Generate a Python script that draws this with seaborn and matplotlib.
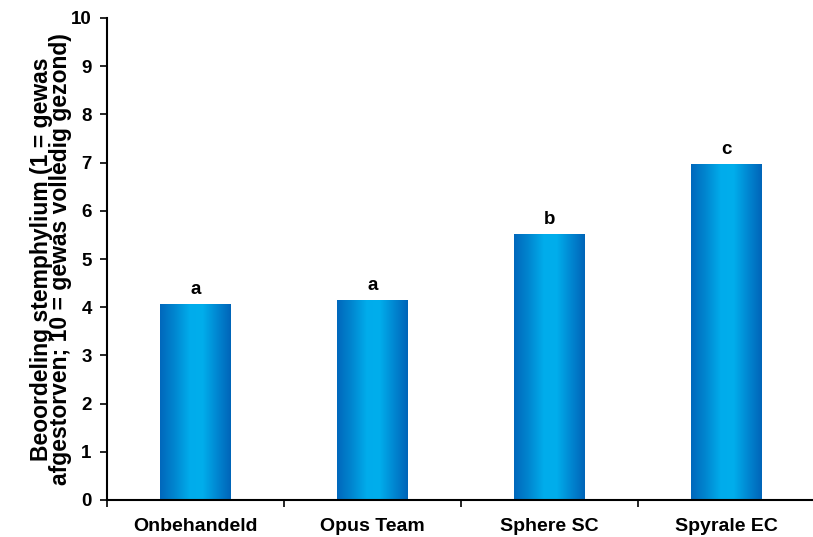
import numpy as np
import pandas as pd
import matplotlib
matplotlib.use("Agg")
import matplotlib.pyplot as plt
import seaborn as sns
from matplotlib.colors import LinearSegmentedColormap

categories = ["Onbehandeld", "Opus Team", "Sphere SC", "Spyrale EC"]
values = [4.07, 4.15, 5.52, 6.97]
letters = ["a", "a", "b", "c"]
yticks = [0, 1, 2, 3, 4, 5, 6, 7, 8, 9, 10]
ylabel = "Beoordeling stemphylium (1 = gewas\nafgestorven; 10 = gewas volledig gezond)"

sns.set_theme(style="white")
plt.rcParams["font.family"] = ["Liberation Sans", "DejaVu Sans"]
plt.rcParams["font.weight"] = "bold"
plt.rcParams["text.color"] = "black"
plt.rcParams["axes.labelcolor"] = "black"
plt.rcParams["xtick.color"] = "black"
plt.rcParams["ytick.color"] = "black"

df = pd.DataFrame({"cat": categories, "val": values})

fig = plt.figure(figsize=(8.13, 5.37), dpi=100)
ax = fig.add_axes([107 / 813, 37 / 537, 708 / 813, 482 / 537])
sns.barplot(data=df, x="cat", y="val", ax=ax, color="#00A0E0", width=0.4,
            saturation=1, edgecolor="none")

ax.set_xlim(-0.5, 3.5)
ax.set_ylim(0, 10)

# gradient fill
cmap = LinearSegmentedColormap.from_list(
    "bargrad",
    [(0.0, "#0068BC"), (0.2, "#0085CF"), (0.42, "#00ACEB"), (0.6, "#00AEEC"),
     (0.8, "#0088D2"), (1.0, "#0064B8")])
grad = np.linspace(0, 1, 256).reshape(1, -1)
for p in list(ax.patches):
    x0, y0 = p.get_x(), p.get_y()
    w, h = p.get_width(), p.get_height()
    im = ax.imshow(grad, cmap=cmap, aspect="auto",
                   extent=[x0, x0 + w, y0, y0 + h], zorder=p.get_zorder() + 0.1,
                   interpolation="bilinear")
    im.set_clip_path(p)
ax.set_xlim(-0.5, 3.5)
ax.set_ylim(0, 10)

for i, (v, t) in enumerate(zip(values, letters)):
    ax.text(i, v + 0.12, t, ha="center", va="bottom", fontsize=13.5,
            fontweight="bold", color="black")

sns.despine(ax=ax)
for s in ["left", "bottom"]:
    ax.spines[s].set_color("black")
    ax.spines[s].set_linewidth(1.5)

ax.set_yticks(yticks)
ax.set_yticklabels([str(t) for t in yticks], fontsize=13.5, fontweight="bold",
                   color="black")
ax.tick_params(axis="y", direction="out", length=5, width=1.2, color="black",
               left=True, pad=6)
ax.set_xticks(range(len(categories)))
ax.set_xticklabels(categories, fontsize=14, fontweight="bold", color="black")
ax.set_xticks([-0.5, 0.5, 1.5, 2.5, 3.5], minor=True)
ax.tick_params(axis="x", which="major", length=0, pad=13)
ax.tick_params(axis="x", which="minor", direction="out", length=5, width=1.2,
               color="black", bottom=True)
ax.set_xlabel("")
ax.set_ylabel(ylabel, fontsize=16.5, fontweight="bold", linespacing=0.78,
              labelpad=-1, color="black")

fig.savefig("out.png", dpi=100)
